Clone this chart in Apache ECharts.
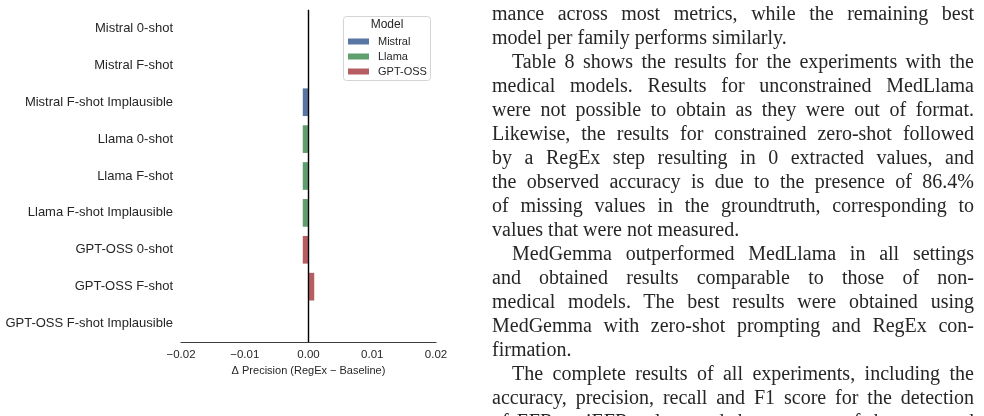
<!DOCTYPE html>
<html>
<head>
    <meta charset="utf-8">
    <title></title>
    <style>
        html,body{ margin:0; padding:0; background:#fff; width:984px; height:416px; overflow:hidden; }
        #main{ position:absolute; left:0; top:0; width:984px; height:416px; }
        #text{
            position:absolute; left:492px; top:1px; width:482px;
            font-family:"Liberation Serif","DejaVu Serif",serif; font-size:20px;
            line-height:24px; color:#262626;
        }
        #text div{ white-space:nowrap; text-align:justify; text-align-last:justify; }
        #text div.ind{ padding-left:20px; }
        #text div.end{ text-align-last:left; }
    </style>
</head>
<body>
<script src="https://cdn.jsdelivr.net/npm/echarts@6/dist/echarts.min.js"></script>
<div id="main"></div>
<div id="text"></div>
<script type="text/javascript">
    // categories (top to bottom)
    var categories = [
        'Mistral 0-shot', 'Mistral F-shot', 'Mistral F-shot Implausible',
        'Llama 0-shot', 'Llama F-shot', 'Llama F-shot Implausible',
        'GPT-OSS 0-shot', 'GPT-OSS F-shot', 'GPT-OSS F-shot Implausible'
    ];
    var models = ['Mistral', 'Llama', 'GPT-OSS'];
    // delta precision per model, null where the row belongs to another model
    var mistralVals = [0, 0, -0.0009, null, null, null, null, null, null];
    var llamaVals   = [null, null, null, -0.0009, -0.0009, -0.0009, null, null, null];
    var gptossVals  = [null, null, null, null, null, null, -0.0009, 0.0009, 0];
    var xTicks = [-0.02, -0.01, 0, 0.01, 0.02];

    // paper text next to the figure, one entry per typeset line
    var textLines = [
        ['mance across most metrics, while the remaining best', ''],
        ['model per family performs similarly.', 'end'],
        ['Table 8 shows the results for the experiments with the', 'ind'],
        ['medical models.  Results for unconstrained MedLlama', ''],
        ['were not possible to obtain as they were out of format.', ''],
        ['Likewise, the results for constrained zero-shot followed', ''],
        ['by a RegEx step resulting in 0 extracted values, and', ''],
        ['the observed accuracy is due to the presence of 86.4%', ''],
        ['of missing values in the groundtruth, corresponding to', ''],
        ['values that were not measured.', 'end'],
        ['MedGemma outperformed MedLlama in all settings', 'ind'],
        ['and obtained results comparable to those of non-', ''],
        ['medical models.  The best results were obtained using', ''],
        ['MedGemma with zero-shot prompting and RegEx con-', ''],
        ['firmation.', 'end'],
        ['The complete results of all experiments, including the', 'ind'],
        ['accuracy, precision, recall and F1 score for the detection', ''],
        ['of EFR or iEFR values and the accuracy of the extracted', '']
    ];

    var box = document.getElementById('text');
    textLines.forEach(function (l) {
        var d = document.createElement('div');
        d.textContent = l[0];
        if (l[1]) d.className = l[1];
        box.appendChild(d);
    });

    var colors = ['#5875A4', '#5F9E6E', '#B55D60'];
    var font = 'Liberation Sans, Arial, sans-serif';

    function fmt(v) {
        var s = Math.abs(v).toFixed(2);
        return v < 0 ? '\u2212' + s : s;
    }

    var myChart = echarts.init(document.getElementById('main'));

    var seriesData = [mistralVals, llamaVals, gptossVals];
    var series = models.map(function (m, i) {
        return {
            name: m,
            type: 'bar',
            stack: 'all',
            barWidth: '75%',
            itemStyle: { color: colors[i] },
            data: seriesData[i]
        };
    });
    // vertical line at zero
    series[0].markLine = {
        silent: true,
        symbol: 'none',
        label: { show: false },
        lineStyle: { color: '#000', width: 1.3, type: 'solid' },
        data: [{ xAxis: 0 }]
    };

    myChart.setOption({
        animation: false,
        textStyle: { fontFamily: font },
        grid: { left: 181, top: 10, width: 255, height: 332 },
        xAxis: {
            type: 'value',
            min: xTicks[0],
            max: xTicks[xTicks.length - 1],
            interval: 0.01,
            splitLine: { show: false },
            axisTick: { show: false },
            axisLine: { show: true, lineStyle: { color: '#3c3c3c', width: 1.2 } },
            axisLabel: { formatter: fmt, fontSize: 11.5, color: '#262626', margin: 7 },
            name: '\u0394 Precision (RegEx \u2212 Baseline)',
            nameLocation: 'middle',
            nameGap: 23,
            nameTextStyle: { fontSize: 11, color: '#262626' }
        },
        yAxis: {
            type: 'category',
            inverse: true,
            data: categories,
            axisTick: { show: false },
            axisLine: { show: true, lineStyle: { color: '#3c3c3c', width: 1.2 } },
            axisLabel: { fontSize: 13, color: '#262626', margin: 8 }
        },
        legend: {
            orient: 'vertical',
            left: 343,
            top: 31,
            data: models,
            icon: 'rect',
            itemWidth: 21,
            itemHeight: 6,
            itemGap: 4,
            textStyle: { fontSize: 11, color: '#262626', padding: [0, 0, 0, 4] }
        },
        graphic: [
            {
                type: 'rect',
                shape: { x: 343.5, y: 16.5, width: 87, height: 64, r: 3 },
                style: { fill: '#fff', stroke: '#d4d4d4', lineWidth: 1 },
                z: 0
            },
            {
                type: 'text',
                x: 387, y: 25,
                style: {
                    text: 'Model', fontSize: 12, fill: '#262626',
                    fontFamily: font, align: 'center', verticalAlign: 'middle'
                },
                z: 1
            }
        ],
        series: series
    });
</script>
</body>
</html>
